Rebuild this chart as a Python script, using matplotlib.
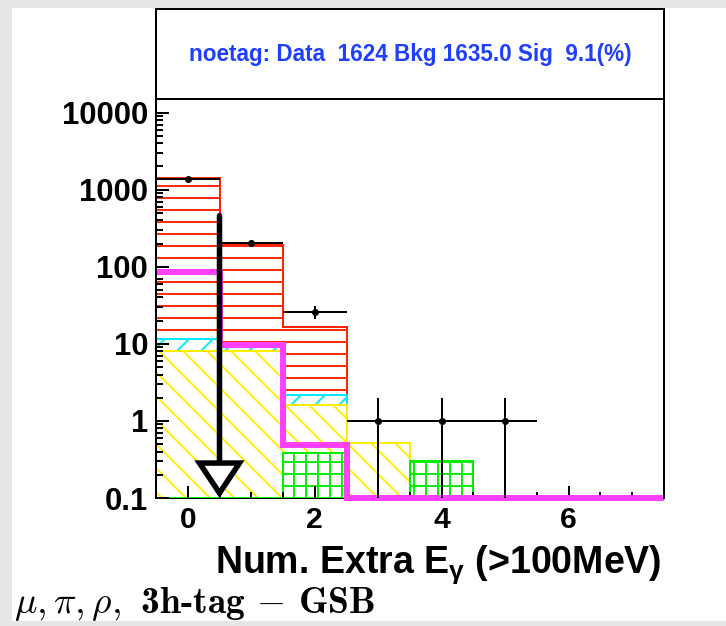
import numpy as np
import matplotlib
matplotlib.use("Agg")
import matplotlib.pyplot as plt
from matplotlib.patches import Rectangle
from matplotlib.ticker import FixedLocator, MultipleLocator, LogLocator, NullFormatter

# number of extra photons, one bin per integer
bin_edges = np.arange(-0.5, 8.0, 1.0)

data_counts = np.array([1392, 203, 26, 1, 1, 1, 0, 0])
bkg_green = np.array([0, 0, 0.38, 0, 0.30, 0, 0, 0])
bkg_yellow = np.array([8.1, 8.1, 1.24, 0.52, 0, 0, 0, 0])
bkg_cyan = np.array([3.5, 1.4, 0.56, 0, 0, 0, 0, 0])
bkg_red = np.array([1412.08, 184.5, 14.32, 0, 0, 0, 0, 0])
signal = np.array([85, 9.7, 0.49, 0, 0, 0, 0, 0])
sig_eff = 9.1

cut_value = 0.5
arrow_top = 460

ytick_vals = [0.1, 1, 10, 100, 1000, 10000]
ytick_text = ["0.1", "1", "10", "100", "1000", "10000"]
xtick_vals = [0, 2, 4, 6]

ymin, ymax = 0.1, 1.5e4

plt.rcParams["hatch.linewidth"] = 1.9
bold_font = ["Liberation Sans", "DejaVu Sans"]

W, H = 726, 626
fig = plt.figure(figsize=(W / 72, H / 72), dpi=72)
fig.patch.set_facecolor("#e6e6e6")
fig.add_artist(Rectangle((12 / W, 5 / H), 714 / W, 613 / H, transform=fig.transFigure,
                         facecolor="white", edgecolor="none", zorder=0))

ax = fig.add_axes([156 / W, (H - 498) / H, 508 / W, 399 / H])
ax.set_yscale("log")
ax.set_xlim(bin_edges[0], bin_edges[-1])
ax.set_ylim(ymin, ymax)

# stacked background, largest sum drawn first
cum_green = bkg_green
cum_yellow = cum_green + bkg_yellow
cum_cyan = cum_yellow + bkg_cyan
cum_total = cum_cyan + bkg_red
layers = [
    (cum_total, "#ff2200", "-"),
    (cum_cyan, "#00e8ff", "/"),
    (cum_yellow, "#ffee00", "\\"),
    (cum_green, "#00ee00", "+"),
]
for vals, col, hatch in layers:
    ax.stairs(np.clip(vals, ymin, None), bin_edges, baseline=ymin, fill=True,
              facecolor="white", edgecolor=col, hatch=hatch, lw=2, zorder=1)

# signal
sig_line = ax.stairs(np.clip(signal, ymin, None), bin_edges, baseline=None,
                     color="#ff40ff", lw=6, zorder=2)
sig_line.set_clip_on(False)

# data points
centers = 0.5 * (bin_edges[:-1] + bin_edges[1:])
has = data_counts > 0
ax.errorbar(centers[has], data_counts[has], xerr=0.5, yerr=np.sqrt(data_counts[has]),
            fmt="o", color="black", ms=6, elinewidth=2, capsize=0, zorder=4)

# cut arrow
ax.annotate("", xy=(cut_value, ymin), xytext=(cut_value, arrow_top),
            arrowprops=dict(arrowstyle="-|>,head_length=1.5,head_width=1.0",
                            mutation_scale=20, lw=5.5, fc="white", ec="black",
                            shrinkA=0, shrinkB=0, joinstyle="miter"),
            annotation_clip=False, zorder=5)

ax.spines["top"].set_visible(False)
ax.spines["bottom"].set_zorder(0.5)
for s in ("left", "right", "bottom"):
    ax.spines[s].set_linewidth(2)

ax.yaxis.set_major_locator(FixedLocator(ytick_vals))
ax.set_yticklabels(ytick_text)
ax.yaxis.set_minor_locator(LogLocator(base=10, subs=np.arange(2, 10), numticks=20))
ax.yaxis.set_minor_formatter(NullFormatter())
ax.xaxis.set_major_locator(FixedLocator(xtick_vals))
ax.xaxis.set_minor_locator(MultipleLocator(0.5))

ax.tick_params(axis="y", which="major", direction="in", length=13, width=2, pad=8)
ax.tick_params(axis="y", which="minor", direction="in", length=7, width=2)
ax.tick_params(axis="x", which="major", direction="in", length=12, width=2, pad=8)
ax.tick_params(axis="x", which="minor", direction="in", length=6, width=2)
for lab in ax.get_yticklabels():
    lab.set_fontfamily(bold_font)
    lab.set_fontweight("bold")
    lab.set_fontsize(31)
for lab in ax.get_xticklabels():
    lab.set_fontfamily(bold_font)
    lab.set_fontweight("bold")
    lab.set_fontsize(30)

fig.text(662 / W, (H - 573) / H, r"Num. Extra E$_\mathregular{\gamma}$ (>100MeV)",
         ha="right", va="baseline", fontsize=37.5, fontweight="bold", family=bold_font)

# summary box above the plot
box = fig.add_axes([156 / W, (H - 99) / H, 508 / W, 90 / H])
box.set_xticks([])
box.set_yticks([])
for s in box.spines.values():
    s.set_linewidth(2)
box.text(0.5, 0.5,
         f"noetag: Data  {data_counts.sum():.0f} Bkg {cum_total.sum():.1f} Sig  {sig_eff:.1f}(%)",
         ha="center", va="center", color="#1f3fff", fontsize=22.5, fontweight="bold",
         family=bold_font, transform=box.transAxes)

fig.text(14 / W, (H - 613) / H, r"$\mu, \pi, \rho,$ 3h-tag $-$ GSB",
         ha="left", va="baseline", fontsize=37.5, family="cmb10", math_fontfamily="cm")

fig.savefig("out.png", dpi=72, facecolor=fig.get_facecolor())
